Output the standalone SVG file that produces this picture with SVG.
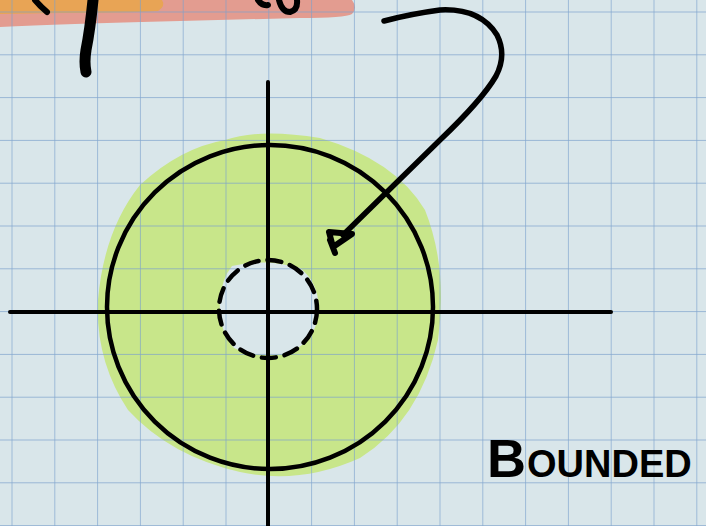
<svg xmlns="http://www.w3.org/2000/svg" width="706" height="526" viewBox="0 0 706 526">
  <defs>
    <style>
      .ink { fill: none; stroke: #000; stroke-linecap: round; stroke-linejoin: round; }
      .hand { font-family: "Liberation Sans", "DejaVu Sans", sans-serif; font-weight: bold; fill: #000; }
    </style>
    <pattern id="gridpat" x="11.5" y="11.5" width="42.8" height="42.8" patternUnits="userSpaceOnUse">
      <path d="M0 0 H42.8 M0 0 V42.8" stroke="#7aa0cc" stroke-width="1.4" fill="none"/>
    </pattern>
  </defs>

  <g id="paper">
    <rect x="0" y="0" width="706" height="526" fill="#d9e6ea"/>
  </g>

  <g id="region">
    <path d="M225 140 Q260 128 320 138 Q395 160 425 210 Q448 268 438 340 Q420 420 360 458 Q300 485 240 472 Q170 456 128 410 Q95 360 98 300 Q104 230 140 185 Q180 148 225 140 Z" fill="#c8e68a"/>
    <path d="M232 266 Q265 258 300 268 Q322 285 318 318 Q312 345 285 354 Q255 358 234 348 Q218 330 220 300 Q222 278 232 266 Z" fill="#d9e6ea"/>
  </g>

  <g id="highlights">
    <path d="M0 0 H352 Q358 8 352 14 Q345 18 300 18 L180 21 Q60 24 0 27 Z" fill="#e39c90"/>
    <path d="M0 0 H162 Q166 6 158 11 Q120 13 60 13 L0 14 Z" fill="#e8a455"/>
  </g>

  <g id="grid">
    <rect x="0" y="0" width="706" height="526" fill="url(#gridpat)" opacity="0.9"/>
  </g>

  <g id="top-handwriting">
    <path class="ink" d="M35 0 Q40 6 47 12" stroke-width="6"/>
    <path class="ink" d="M93 0 Q90 30 86 50 Q84 62 86 72" stroke-width="11"/>
    <path class="ink" d="M258 0 Q262 6 268 5 M279 0 Q282 12 290 12 Q298 10 297 0" stroke-width="6"/>
  </g>

  <g id="axes">
    <line class="ink" x1="10" y1="312" x2="611" y2="312" stroke-width="4"/>
    <line class="ink" x1="268" y1="82" x2="268" y2="526" stroke-width="4"/>
  </g>

  <g id="outer-circle">
    <ellipse class="ink" cx="270" cy="307" rx="163" ry="162" stroke-width="4.5"/>
  </g>

  <g id="inner-circle">
    <circle class="ink" cx="268" cy="309" r="49" stroke-width="4.5" stroke-dasharray="14 9" stroke-linecap="butt"/>
  </g>

  <g id="arrow">
    <path class="ink" d="M384 21 Q410 14 440 10 Q480 8 497 35 Q507 55 496 76 Q482 100 440 140 L343 235" stroke-width="5.5"/>
    <path class="ink" d="M352 234 L333 247 L329 232 Z M330 240 L335 253" stroke-width="6"/>
  </g>

  <g id="label">
    <text class="hand" x="487" y="477" font-size="54">B</text>
    <text class="hand" x="527" y="477" font-size="38">OUNDED</text>
  </g>
</svg>
